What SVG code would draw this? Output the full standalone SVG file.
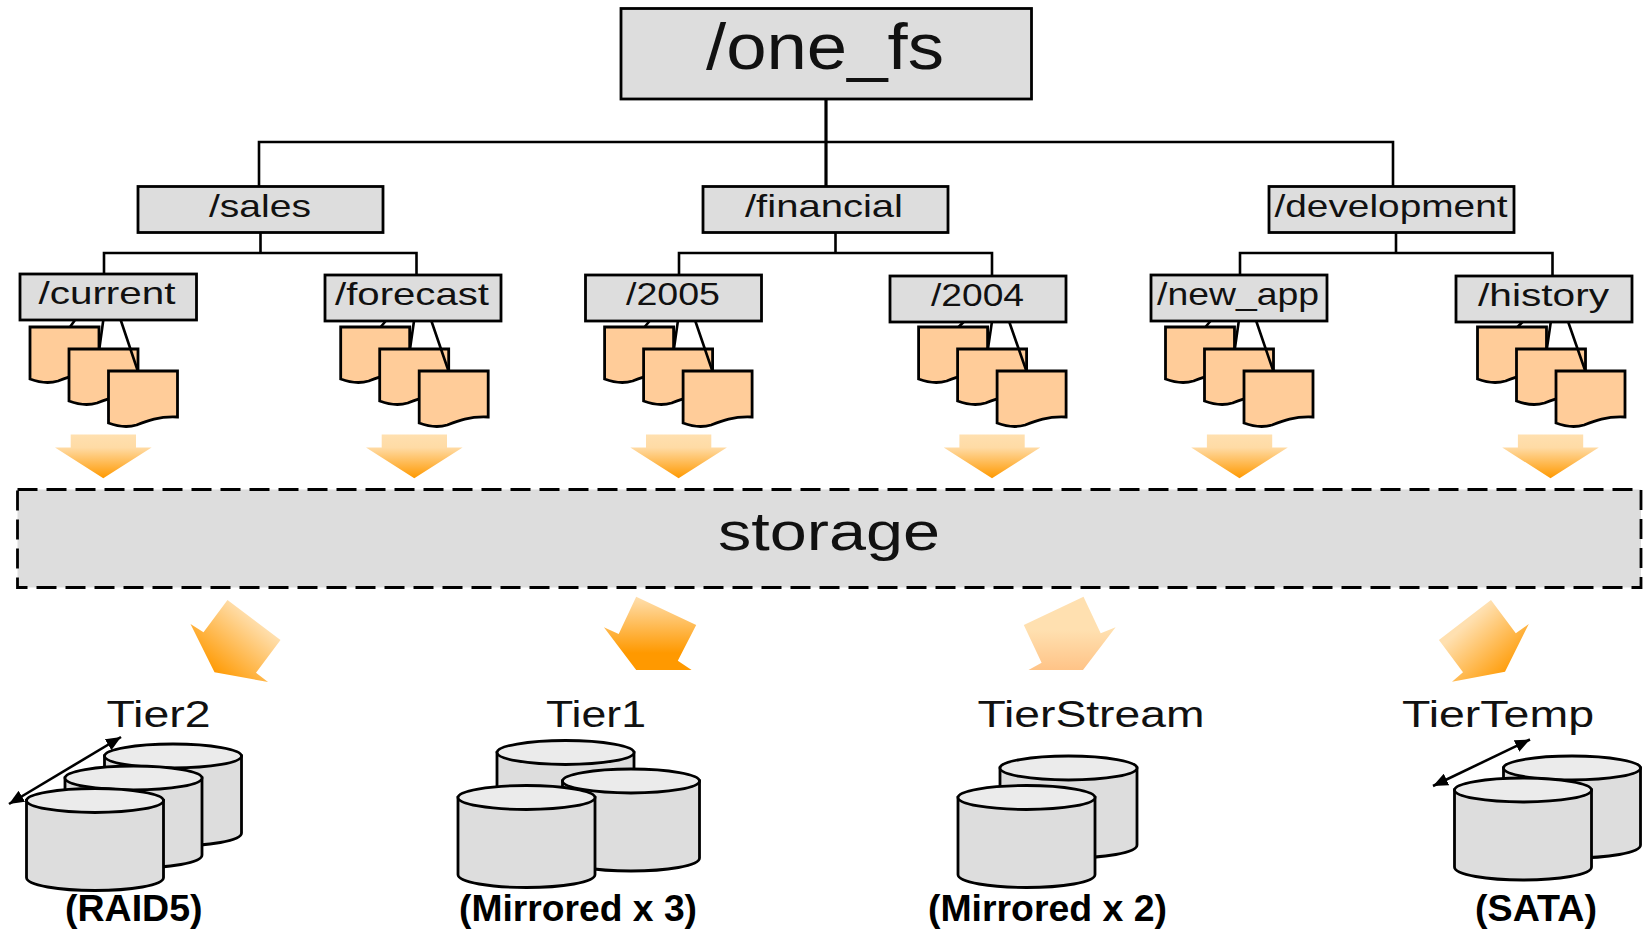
<svg xmlns="http://www.w3.org/2000/svg" width="1647" height="929" viewBox="0 0 1647 929">
<style>
.box{fill:#dddddd;stroke:#000;stroke-width:2.800}
.t{font-family:"Liberation Sans",Arial,sans-serif;fill:#111}
.b{font-family:"Liberation Sans",Arial,sans-serif;font-weight:700;font-size:36px;fill:#000}
.m{font-size:32px}
.tier{font-size:36px}
.doc{fill:#ffcc99;stroke:#000;stroke-width:2.800}
.cb{fill:#dddddd;stroke:#000;stroke-width:2.800}
.ct{fill:#ebebeb;stroke:#000;stroke-width:2.800}
.c{fill:none;stroke:#000;stroke-width:2.600}
.c3{fill:none;stroke:#000;stroke-width:3.200}
.da{fill:none;stroke:#000;stroke-width:2.600;marker-start:url(#head);marker-end:url(#head)}
</style>
<defs>
<linearGradient id="gd" x1="0" y1="0" x2="0" y2="1"><stop offset="0" stop-color="#ffe0b0"/><stop offset="0.3" stop-color="#ffdba5"/><stop offset="1" stop-color="#ff9900"/></linearGradient>
<linearGradient id="g1" x1="0.85" y1="0.15" x2="0.2" y2="0.85"><stop offset="0.15" stop-color="#ffe0b0"/><stop offset="1" stop-color="#ff9900"/></linearGradient>
<linearGradient id="g2" gradientUnits="userSpaceOnUse" x1="0" y1="597" x2="0" y2="653"><stop offset="0" stop-color="#ffdfae"/><stop offset="1" stop-color="#ff9900"/></linearGradient>
<linearGradient id="g3" gradientUnits="userSpaceOnUse" x1="0" y1="630" x2="0" y2="672"><stop offset="0" stop-color="#ffe0b0"/><stop offset="1" stop-color="#ffc285"/></linearGradient>
<linearGradient id="g4" x1="0.2" y1="0.2" x2="0.85" y2="0.85"><stop offset="0.15" stop-color="#ffe0b0"/><stop offset="1" stop-color="#ff9900"/></linearGradient>
<marker id="head" viewBox="0 0 14 12" refX="14" refY="6" markerWidth="15" markerHeight="13" markerUnits="userSpaceOnUse" orient="auto-start-reverse"><path d="M0,0L14,6L0,12Z" fill="#000"/></marker>
<path id="doc" d="M0,0H69V46C50,45 38,50 28,54C18,57 8,55 0,52Z"/>
<polygon id="down" points="-32.6,0 32.7,0 32.7,13 48.3,13 0,43.7 -48.3,13 -32.6,13"/>
<g id="cyl"><path class="cb" d="M-68.500,0V77C-68.500,85 -35,90 0,90C35,90 68.500,85 68.500,77V0Z"/><ellipse class="ct" cx="0" cy="0" rx="68.500" ry="12"/></g>
<g id="docs">
<use href="#doc" class="doc" x="30" y="327"/>
<use href="#doc" class="doc" x="69" y="349"/>
<use href="#doc" class="doc" x="108.500" y="371"/>
</g>
</defs>

<g id="root"><rect class="box" x="621" y="8.500" width="410.500" height="90.500"/><text class="t" x="706" y="68.500" font-size="64" textLength="238" lengthAdjust="spacingAndGlyphs">/one_fs</text></g>
<g id="sales"><rect class="box" x="138" y="186.500" width="245" height="46"/><text class="t m" x="209" y="217" textLength="102" lengthAdjust="spacingAndGlyphs">/sales</text></g>
<g id="financial"><rect class="box" x="703" y="186.500" width="245" height="46"/><text class="t m" x="745" y="217" textLength="158" lengthAdjust="spacingAndGlyphs">/financial</text></g>
<g id="development"><rect class="box" x="1269" y="186.500" width="245" height="46"/><text class="t m" x="1274.500" y="217" textLength="233" lengthAdjust="spacingAndGlyphs">/development</text></g>

<g id="current"><rect class="box" x="20" y="274" width="176.500" height="46"/><text class="t m" x="38.500" y="304" textLength="137" lengthAdjust="spacingAndGlyphs">/current</text></g>
<g id="forecast"><rect class="box" x="325" y="275" width="176" height="46"/><text class="t m" x="335" y="305" textLength="154" lengthAdjust="spacingAndGlyphs">/forecast</text></g>
<g id="y2005"><rect class="box" x="585.500" y="275" width="176" height="46"/><text class="t m" x="626" y="305" textLength="94" lengthAdjust="spacingAndGlyphs">/2005</text></g>
<g id="y2004"><rect class="box" x="890" y="276" width="176" height="46"/><text class="t m" x="931" y="306" textLength="93" lengthAdjust="spacingAndGlyphs">/2004</text></g>
<g id="new_app"><rect class="box" x="1151" y="275" width="176" height="46"/><text class="t m" x="1157" y="305" textLength="162" lengthAdjust="spacingAndGlyphs">/new_app</text></g>
<g id="history"><rect class="box" x="1456" y="276" width="176" height="46"/><text class="t m" x="1478" y="306" textLength="131" lengthAdjust="spacingAndGlyphs">/history</text></g>

<g id="files-current"><use href="#docs"/></g>
<g id="files-forecast"><use href="#docs" x="310.700"/></g>
<g id="files-2005"><use href="#docs" x="574.600"/></g>
<g id="files-2004"><use href="#docs" x="888.600"/></g>
<g id="files-new_app"><use href="#docs" x="1135.500"/></g>
<g id="files-history"><use href="#docs" x="1447.500"/></g>

<g id="flow-arrows-down">
<use href="#down" fill="url(#gd)" x="103.300" y="434.500"/>
<use href="#down" fill="url(#gd)" x="414.300" y="434.500"/>
<use href="#down" fill="url(#gd)" x="678.600" y="434.500"/>
<use href="#down" fill="url(#gd)" x="992" y="434.500"/>
<use href="#down" fill="url(#gd)" x="1239.500" y="434.500"/>
<use href="#down" fill="url(#gd)" x="1550.500" y="434.500"/>
</g>

<g id="storage"><rect x="17.500" y="489.500" width="1623.500" height="98" fill="#dddddd" stroke="#000" stroke-width="2.800" stroke-dasharray="20 9"/><text class="t" x="718" y="550" font-size="54" textLength="222" lengthAdjust="spacingAndGlyphs">storage</text></g>

<g id="flow-arrows-tier">
<polygon fill="url(#g1)" points="227.500,600 280.500,640 256,672.700 268,682 214.500,672.300 190.500,624 203.500,632.300"/>
<polygon fill="url(#g2)" points="636.200,596.700 696.200,625 677.800,660.700 691.600,670 636.200,670 603.900,627.300 618.700,634"/>
<polygon fill="url(#g3)" points="1083.500,596.700 1100.700,633.300 1115.600,627.300 1083,670 1028.500,670 1041.600,662.700 1023.800,625"/>
<polygon fill="url(#g4)" points="1491,600 1515.800,633.300 1528.800,624 1505,671.700 1452,681.700 1463,672.300 1438.900,640"/>
</g>

<g id="tier2"><text class="t tier" x="106.500" y="727" textLength="104" lengthAdjust="spacingAndGlyphs">Tier2</text>
<use href="#cyl" x="173" y="756"/><use href="#cyl" x="133.500" y="778"/><use href="#cyl" x="95" y="800.500"/>
<path class="da" d="M9,804L121,737"/>
<text class="b" x="65" y="921" textLength="137.500" lengthAdjust="spacingAndGlyphs">(RAID5)</text></g>

<g id="tier1"><text class="t tier" x="546" y="727" textLength="100" lengthAdjust="spacingAndGlyphs">Tier1</text>
<use href="#cyl" x="565.500" y="752.500"/><use href="#cyl" x="631" y="781"/><use href="#cyl" x="526.500" y="797.500"/>
<text class="b" x="459" y="921" textLength="238" lengthAdjust="spacingAndGlyphs">(Mirrored x 3)</text></g>

<g id="tierstream"><text class="t tier" x="977.500" y="727" textLength="227" lengthAdjust="spacingAndGlyphs">TierStream</text>
<use href="#cyl" x="1068.500" y="768"/><use href="#cyl" x="1026.500" y="797.500"/>
<text class="b" x="928" y="921" textLength="239" lengthAdjust="spacingAndGlyphs">(Mirrored x 2)</text></g>

<g id="tiertemp"><text class="t tier" x="1402" y="727" textLength="192" lengthAdjust="spacingAndGlyphs">TierTemp</text>
<use href="#cyl" x="1572" y="768"/><use href="#cyl" x="1523" y="790"/>
<path class="da" d="M1433,786L1530,739.500"/>
<text class="b" x="1475" y="921" textLength="122" lengthAdjust="spacingAndGlyphs">(SATA)</text></g>

<g id="connectors">
<path class="c3" d="M826,99V186.500"/>
<path class="c" d="M259,186.500V142H1393V186.500"/>
<path class="c" d="M260.500,232.500V253M104,274V253H416.500V275"/>
<path class="c" d="M835.500,232.500V253M679,275V253H992V276"/>
<path class="c" d="M1396,232.500V253M1240,275V253H1552.500V276"/>
<path class="c" d="M75,320L70,327M103.300,320L99.300,349M120.700,320L137.800,371"/>
<path class="c" d="M385.700,321L380.700,327M414,321L410,349M431.400,321L448.500,371"/>
<path class="c" d="M649.600,321L644.600,327M677.900,321L673.900,349M695.300,321L712.400,371"/>
<path class="c" d="M963.600,322L958.600,327M991.900,322L987.900,349M1009.300,322L1026.400,371"/>
<path class="c" d="M1210.500,321L1205.500,327M1238.800,321L1234.800,349M1256.200,321L1273.300,371"/>
<path class="c" d="M1522.500,322L1517.500,327M1550.800,322L1546.800,349M1568.200,322L1585.300,371"/>
</g>
</svg>
